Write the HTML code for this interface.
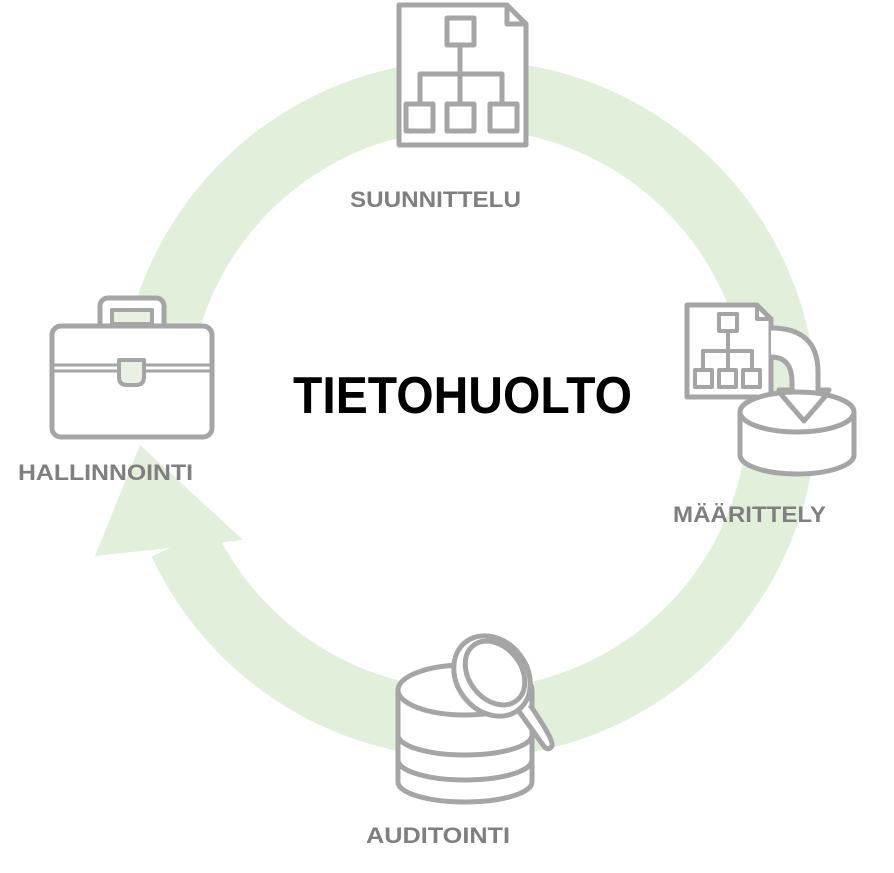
<!DOCTYPE html>
<html><head><meta charset="utf-8"><style>
html,body{margin:0;padding:0;background:#fff;}
svg{display:block;}
text{font-family:"Liberation Sans",sans-serif;font-weight:bold;}
</style></head><body>
<svg width="894" height="873" viewBox="0 0 894 873" xmlns="http://www.w3.org/2000/svg">
<!-- ring -->
<path d="M151.7,556.5 A349,349 0 1 0 119.5,390.7 L188.4,394.4 A280,280 0 1 1 214.2,527.3 Z" fill="#e2efda"/>
<polygon points="95,556 243,540 140,445" fill="#e2efda"/>

<g fill="none" stroke="#a5a5a5" stroke-width="5" stroke-linejoin="round">
<!-- suunnittelu doc -->
<path d="M399,5 H507 L526,24 V145 H399 Z" fill="#fff"/>
<path d="M507,5 V24 H526"/>
<rect x="447" y="18" width="27" height="27"/>
<path d="M460,45 V104 M420,104 V74 H502 V104"/>
<rect x="406" y="104" width="27" height="27"/>
<rect x="447" y="104" width="27" height="27"/>
<rect x="490" y="104" width="27" height="27"/>

<!-- briefcase -->
<rect x="100" y="298" width="64" height="34" rx="8" fill="#fff"/>
<rect x="112" y="310" width="40" height="14" fill="#e8f1e2" stroke-width="4"/>
<rect x="52" y="326" width="160" height="111" rx="9" fill="#fff"/>
<path d="M52,365 H212 M52,371 H212" stroke-width="3"/>
<path d="M119,360 H144 V377 Q144,385 136,385 H127 Q119,385 119,377 Z" fill="#e8f1e2" stroke-width="4"/>

<!-- maarittely -->
<path d="M687,305 H757 L771,319 V397 H687 Z" fill="#fff"/>
<path d="M757,305 V319 H771" stroke-width="4"/>
<g stroke-width="4">
<rect x="719" y="314" width="18" height="17"/>
<path d="M728,331 V370 M703,370 V351 H752 V370"/>
<rect x="695" y="370" width="17" height="17"/>
<rect x="719" y="370" width="17" height="17"/>
<rect x="743" y="370" width="17" height="17"/>
</g>
<path d="M771,328 Q818,328 818,372 V390 H829 L804,419 L779,390 H792 V382 Q792,357 771,357" fill="#fff"/>
<path d="M740,412 V455 A57,19 0 0 0 854,455 V412" fill="#fff"/>
<ellipse cx="797" cy="412" rx="57" ry="20" fill="#fff"/>
<path d="M779,392 L804,421 L829,392" />

<!-- auditointi -->
<path d="M398,690 V782 A67,20 0 0 0 532,782 V690" fill="#fff"/>
<ellipse cx="465" cy="690" rx="67" ry="25" fill="#fff"/>
<path d="M398,735 A67,20 0 0 0 532,735 M398,760 A67,20 0 0 0 532,760"/>
<path d="M518,710 L543,745 Q548,752 552,746 Q554,740 530,705" fill="#fff"/>
<ellipse cx="492" cy="676" rx="35" ry="43" transform="rotate(-38 492 676)" fill="#fff"/>
<ellipse cx="495" cy="673" rx="26" ry="35" transform="rotate(-38 495 673)"/>
</g>

<text x="350" y="207" font-size="22" fill="#7f7f7f" textLength="171" lengthAdjust="spacingAndGlyphs">SUUNNITTELU</text>
<text x="18" y="480" font-size="22" fill="#7f7f7f" textLength="175" lengthAdjust="spacingAndGlyphs">HALLINNOINTI</text>
<text x="673" y="522" font-size="22" fill="#7f7f7f" textLength="153" lengthAdjust="spacingAndGlyphs">MÄÄRITTELY</text>
<text x="366" y="843" font-size="22" fill="#7f7f7f" textLength="144" lengthAdjust="spacingAndGlyphs">AUDITOINTI</text>
<text x="293" y="413" font-size="52" fill="#000" textLength="339" lengthAdjust="spacingAndGlyphs">TIETOHUOLTO</text>
</svg>
</body></html>
